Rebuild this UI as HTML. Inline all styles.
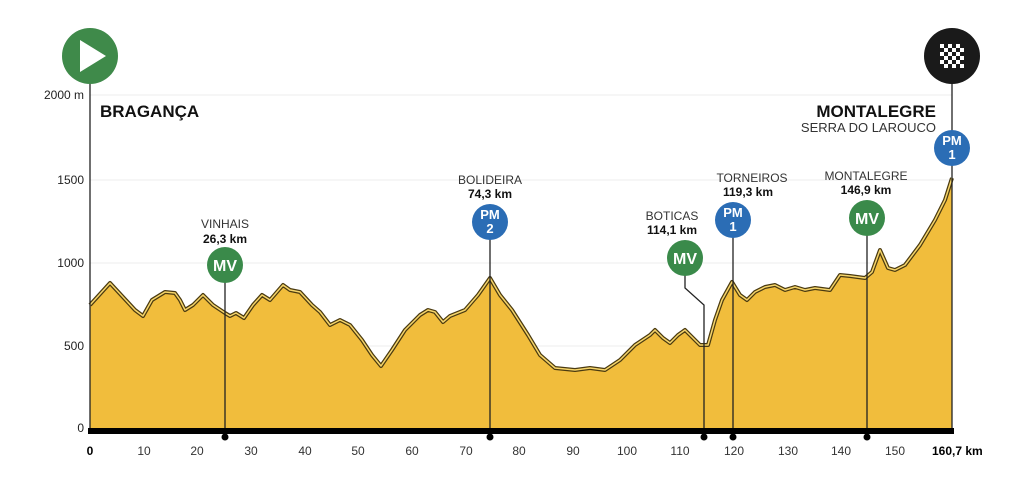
<!DOCTYPE html>
<html><head><meta charset="utf-8"><style>body{margin:0;background:#fff}svg{display:block}text{font-family:"Liberation Sans",sans-serif}</style></head><body>
<svg width="1024" height="490" viewBox="0 0 1024 490" xmlns="http://www.w3.org/2000/svg">
<g stroke="#ececec" stroke-width="1">
<line x1="90" y1="95" x2="952" y2="95"/><line x1="90" y1="180" x2="952" y2="180"/><line x1="90" y1="263" x2="952" y2="263"/><line x1="90" y1="346" x2="952" y2="346"/>
</g>
<g font-size="12" fill="#222" text-anchor="end">
<text x="84" y="99">2000 m</text><text x="84" y="184">1500</text><text x="84" y="267">1000</text><text x="84" y="350">500</text><text x="84" y="432">0</text>
</g>
<path d="M90,428 L90,305 L110,283 L135,310 L143,316 L152,300 L165,292 L175,293 L180,300 L185,310 L193,305 L203,295 L213,305 L225,313 L230,316 L236,313 L244,318 L253,305 L262,295 L270,300 L283,285 L290,290 L300,292 L312,305 L320,312 L330,325 L340,320 L350,325 L362,340 L372,355 L381,366 L392,350 L405,330 L420,315 L428,310 L435,312 L443,322 L450,316 L465,310 L478,295 L490,278 L500,295 L512,310 L528,335 L540,355 L555,368 L575,370 L590,368 L605,370 L620,360 L635,345 L650,335 L655,330 L663,338 L670,343 L678,335 L685,330 L693,338 L700,345 L708,345 L715,320 L722,300 L732,282 L740,295 L747,300 L755,292 L765,287 L775,285 L785,290 L795,287 L805,290 L815,288 L830,290 L840,275 L850,276 L865,278 L872,272 L880,250 L888,268 L895,270 L905,265 L920,245 L935,220 L945,200 L952,178 L952,428 Z" fill="#f1bd3c"/>
<path d="M90,305 L110,283 L135,310 L143,316 L152,300 L165,292 L175,293 L180,300 L185,310 L193,305 L203,295 L213,305 L225,313 L230,316 L236,313 L244,318 L253,305 L262,295 L270,300 L283,285 L290,290 L300,292 L312,305 L320,312 L330,325 L340,320 L350,325 L362,340 L372,355 L381,366 L392,350 L405,330 L420,315 L428,310 L435,312 L443,322 L450,316 L465,310 L478,295 L490,278 L500,295 L512,310 L528,335 L540,355 L555,368 L575,370 L590,368 L605,370 L620,360 L635,345 L650,335 L655,330 L663,338 L670,343 L678,335 L685,330 L693,338 L700,345 L708,345 L715,320 L722,300 L732,282 L740,295 L747,300 L755,292 L765,287 L775,285 L785,290 L795,287 L805,290 L815,288 L830,290 L840,275 L850,276 L865,278 L872,272 L880,250 L888,268 L895,270 L905,265 L920,245 L935,220 L945,200 L952,178" fill="none" stroke="#4a3a10" stroke-width="4" stroke-linejoin="round"/>
<path d="M90,305 L110,283 L135,310 L143,316 L152,300 L165,292 L175,293 L180,300 L185,310 L193,305 L203,295 L213,305 L225,313 L230,316 L236,313 L244,318 L253,305 L262,295 L270,300 L283,285 L290,290 L300,292 L312,305 L320,312 L330,325 L340,320 L350,325 L362,340 L372,355 L381,366 L392,350 L405,330 L420,315 L428,310 L435,312 L443,322 L450,316 L465,310 L478,295 L490,278 L500,295 L512,310 L528,335 L540,355 L555,368 L575,370 L590,368 L605,370 L620,360 L635,345 L650,335 L655,330 L663,338 L670,343 L678,335 L685,330 L693,338 L700,345 L708,345 L715,320 L722,300 L732,282 L740,295 L747,300 L755,292 L765,287 L775,285 L785,290 L795,287 L805,290 L815,288 L830,290 L840,275 L850,276 L865,278 L872,272 L880,250 L888,268 L895,270 L905,265 L920,245 L935,220 L945,200 L952,178" fill="none" stroke="#f6d56a" stroke-width="1.5" stroke-linejoin="round"/>
<g stroke="#222" stroke-width="1.3">
<line x1="90" y1="80" x2="90" y2="430"/><line x1="952" y1="80" x2="952" y2="430"/>
<line x1="225" y1="280" x2="225" y2="430"/><line x1="490" y1="238" x2="490" y2="430"/>
<polyline points="685,274 685,288 704,305 704,430" fill="none"/>
<line x1="733" y1="236" x2="733" y2="430"/><line x1="867" y1="234" x2="867" y2="430"/>
</g>
<rect x="88" y="428" width="866" height="6" fill="#000"/>
<g fill="#000"><circle cx="225" cy="437" r="3.5"/><circle cx="490" cy="437" r="3.5"/><circle cx="704" cy="437" r="3.5"/><circle cx="733" cy="437" r="3.5"/><circle cx="867" cy="437" r="3.5"/></g>
<g font-size="12" fill="#333" text-anchor="middle">
<text x="90" y="455" font-weight="bold" fill="#000">0</text><text x="144" y="455">10</text><text x="197" y="455">20</text><text x="251" y="455">30</text><text x="305" y="455">40</text><text x="358" y="455">50</text><text x="412" y="455">60</text><text x="466" y="455">70</text><text x="519" y="455">80</text><text x="573" y="455">90</text><text x="627" y="455">100</text><text x="680" y="455">110</text><text x="734" y="455">120</text><text x="788" y="455">130</text><text x="841" y="455">140</text><text x="895" y="455">150</text>
</g>
<text x="932" y="455" font-size="12" font-weight="bold" fill="#000">160,7 km</text>
<circle cx="90" cy="56" r="28" fill="#3f8a4a"/><polygon points="80,40 80,72 106,56" fill="#fff"/>
<circle cx="952" cy="56" r="28" fill="#1a1a1a"/>
<g fill="#fff">
<rect x="940" y="44" width="4" height="4"/><rect x="948" y="44" width="4" height="4"/><rect x="956" y="44" width="4" height="4"/>
<rect x="944" y="48" width="4" height="4"/><rect x="952" y="48" width="4" height="4"/><rect x="960" y="48" width="4" height="4"/>
<rect x="940" y="52" width="4" height="4"/><rect x="948" y="52" width="4" height="4"/><rect x="956" y="52" width="4" height="4"/>
<rect x="944" y="56" width="4" height="4"/><rect x="952" y="56" width="4" height="4"/><rect x="960" y="56" width="4" height="4"/>
<rect x="940" y="60" width="4" height="4"/><rect x="948" y="60" width="4" height="4"/><rect x="956" y="60" width="4" height="4"/>
<rect x="944" y="64" width="4" height="4"/><rect x="952" y="64" width="4" height="4"/><rect x="960" y="64" width="4" height="4"/>
</g>
<text x="100" y="117" font-size="17" font-weight="bold" fill="#111">BRAGANÇA</text>
<text x="936" y="117" font-size="17" font-weight="bold" fill="#111" text-anchor="end">MONTALEGRE</text>
<text x="936" y="132" font-size="13" fill="#333" text-anchor="end">SERRA DO LAROUCO</text>
<g font-size="12" fill="#333" text-anchor="middle">
<text x="225" y="228">VINHAIS</text><text x="225" y="243" font-weight="bold" fill="#111">26,3 km</text>
<text x="490" y="184">BOLIDEIRA</text><text x="490" y="198" font-weight="bold" fill="#111">74,3 km</text>
<text x="672" y="220">BOTICAS</text><text x="672" y="234" font-weight="bold" fill="#111">114,1 km</text>
<text x="752" y="182">TORNEIROS</text><text x="748" y="196" font-weight="bold" fill="#111">119,3 km</text>
<text x="866" y="180">MONTALEGRE</text><text x="866" y="194" font-weight="bold" fill="#111">146,9 km</text>
</g>
<g font-weight="bold" fill="#fff" text-anchor="middle">
<circle cx="225" cy="265" r="18" fill="#3a8a4a"/><text x="225" y="271" font-size="16">MV</text>
<circle cx="685" cy="258" r="18" fill="#3a8a4a"/><text x="685" y="264" font-size="16">MV</text>
<circle cx="867" cy="218" r="18" fill="#3a8a4a"/><text x="867" y="224" font-size="16">MV</text>
<circle cx="490" cy="222" r="18" fill="#2b6db5"/><text x="490" y="219" font-size="13">PM</text><text x="490" y="233" font-size="13">2</text>
<circle cx="733" cy="220" r="18" fill="#2b6db5"/><text x="733" y="217" font-size="13">PM</text><text x="733" y="231" font-size="13">1</text>
<circle cx="952" cy="148" r="18" fill="#2b6db5"/><text x="952" y="145" font-size="13">PM</text><text x="952" y="159" font-size="13">1</text>
</g>
</svg>
</body></html>
